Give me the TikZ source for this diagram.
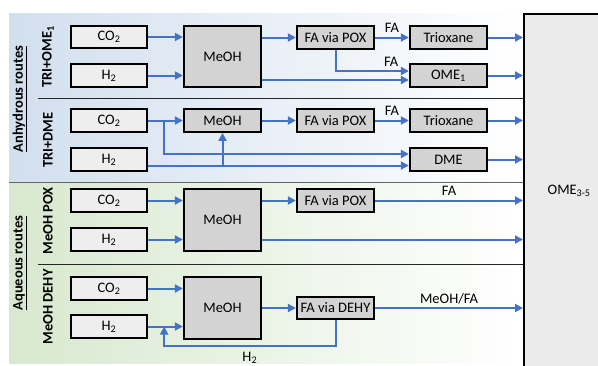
\documentclass[tikz,border=0pt]{standalone}
\usepackage{fontspec}
\setmainfont{Carlito}
\usetikzlibrary{arrows.meta}
\definecolor{flowblue}{HTML}{4472C4}
\definecolor{anhydbg}{HTML}{D2DFEE}
\definecolor{aquabg}{HTML}{D8E8CF}
\definecolor{feedgray}{HTML}{EEEEEE}
\definecolor{unitgray}{HTML}{D3D3D3}
\definecolor{productgray}{HTML}{EBEBEB}
\begin{document}
\begin{tikzpicture}[x=1pt,y=-1pt,
  font=\fontsize{14.5}{17}\selectfont,
  feed/.style={draw=black,line width=2.3pt,fill=feedgray,minimum width=76pt,minimum height=22.5pt,inner sep=0pt},
  unit/.style={feed,fill=unitgray,minimum width=77pt},
  flow/.style={draw=flowblue,line width=2pt,-{Triangle[length=8pt,width=8pt]}},
  flowlabel/.style={anchor=base,inner sep=0pt,yshift=5pt},
  routelabel/.style={rotate=90,inner sep=0pt,font=\fontsize{14.5}{17}\selectfont\bfseries},
  divider/.style={draw=black!85,line width=1pt}]
\useasboundingbox (0,0) rectangle (598,365);
% backgrounds of the two route groups
\shade[left color=anhydbg,right color=white] (9,13) rectangle (523,182);
\shade[left color=aquabg,right color=white] (9,182) rectangle (523,363);
\node[draw=black,line width=2.3pt,fill=productgray,anchor=north west,
  minimum width=90pt,minimum height=370pt] (ome) at (523,12.5) {};
\node at ([yshift=8pt]ome.center) {OME\textsubscript{3-5}};
\draw[divider,draw=black!60] (9,182) -- (ome.west |- 0,182);
\draw[divider] (38,98) -- (ome.west |- 0,98);
\draw[divider] (38,264) -- (ome.west |- 0,264);
\node[routelabel] (anhyd) at (20,99) {\underline{Anhydrous routes}};
\node[routelabel] (aqua) at (20,263) {\underline{Aqueous routes}};
\node[routelabel] (triome) at (48,57) {TRI+OME\textsubscript{1}};
\node[routelabel] (tridme) at (48,140) {TRI+DME};
\node[routelabel] (meohpox) at (48,221) {MeOH POX};
\node[routelabel] (meohdehy) at (48,307) {MeOH DEHY};
% TRI+OME1
\node[feed] (co2a) at (109,37) {CO\textsubscript{2}};
\node[feed] (h2a) at (109,75.5) {H\textsubscript{2}};
\node[unit,minimum height=61pt] (meoha) at (222.5,56.5) {MeOH};
\node[unit] (poxa) at (335.5,37.5) {FA via POX};
\node[unit] (trioxa) at (448.5,37.5) {Trioxane};
\node[unit] (ome1) at (448.5,75.5) {OME\textsubscript{1}};
\draw[flow] (co2a.east) -- (co2a.east -| meoha.west);
\draw[flow] (h2a.east) -- (h2a.east -| meoha.west);
\draw[flow] (poxa.west -| meoha.east) -- (poxa.west);
\draw[flow] (poxa.east) -- node[flowlabel] {FA} (trioxa.west);
\draw[flow] (poxa.south) |- node[flowlabel,pos=0.88] {FA} ([yshift=4.5pt]ome1.west);
\draw[flow] ([yshift=-4.5pt]ome1.west -| meoha.east) -- ([yshift=-4.5pt]ome1.west);
\draw[flow] (trioxa.east) -- (trioxa.east -| ome.west);
\draw[flow] (ome1.east) -- (ome1.east -| ome.west);
% TRI+DME
\node[feed] (co2b) at (109,120.5) {CO\textsubscript{2}};
\node[feed] (h2b) at (109,159.5) {H\textsubscript{2}};
\node[unit] (meohb) at (222.5,120.5) {MeOH};
\node[unit] (poxb) at (335.5,120.5) {FA via POX};
\node[unit] (trioxb) at (448.5,120.5) {Trioxane};
\node[unit] (dme) at (448.5,159.5) {DME};
\coordinate (brb) at ([xshift=16pt]co2b.east);
\draw[flow] (co2b.east) -- (meohb.west);
\draw[flow] (brb) |- ([yshift=5.5pt]dme.west);
\draw[flow] ([yshift=-6pt]dme.west -| h2b.east) -- ([yshift=-6pt]dme.west);
\draw[flow] ([yshift=-6pt]dme.west -| meohb.south) -- (meohb.south);
\draw[flow] (meohb.east) -- (poxb.west);
\draw[flow] (poxb.east) -- node[flowlabel] {FA} (trioxb.west);
\draw[flow] (trioxb.east) -- (trioxb.east -| ome.west);
\draw[flow] (dme.east) -- (dme.east -| ome.west);
% MeOH POX
\node[feed] (co2c) at (109,200.5) {CO\textsubscript{2}};
\node[feed] (h2c) at (109,239.5) {H\textsubscript{2}};
\node[unit,minimum height=62pt] (meohc) at (222.5,220) {MeOH};
\node[unit] (poxc) at (335.5,200.5) {FA via POX};
\draw[flow] (co2c.east) -- (co2c.east -| meohc.west);
\draw[flow] (h2c.east) -- (h2c.east -| meohc.west);
\draw[flow] (poxc.west -| meohc.east) -- (poxc.west);
\draw[flow] (poxc.east) -- node[flowlabel] {FA} (poxc.east -| ome.west);
\draw[flow] (h2c.east -| meohc.east) -- (h2c.east -| ome.west);
% MeOH DEHY
\node[feed] (co2d) at (109,288.5) {CO\textsubscript{2}};
\node[feed] (h2d) at (109,326.5) {H\textsubscript{2}};
\node[unit,minimum height=62pt] (meohd) at (222.5,308) {MeOH};
\node[unit] (dehy) at (335.5,308) {FA via DEHY};
\coordinate (recd) at ([xshift=16pt]h2d.east);
\draw[flow] (co2d.east) -- (co2d.east -| meohd.west);
\draw[flow] (h2d.east) -- (h2d.east -| meohd.west);
\draw[flow] (meohd.east) -- (dehy.west);
\draw[flow] (dehy.east) -- node[flowlabel] {MeOH/FA} (dehy.east -| ome.west);
\draw[flow] (dehy.south) -- ++(0,26) -| node[pos=0.25,below=5pt,inner sep=0pt] {H\textsubscript{2}} (recd);
\end{tikzpicture}
\end{document}
